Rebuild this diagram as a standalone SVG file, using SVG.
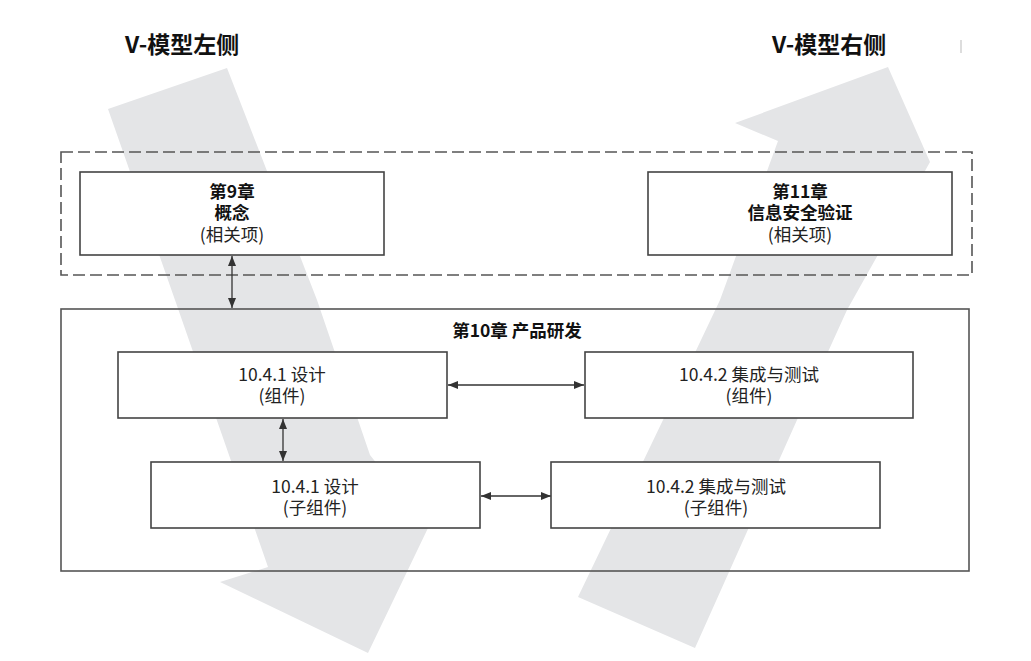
<svg xmlns="http://www.w3.org/2000/svg" width="1031" height="661" viewBox="0 0 1031 661">
<defs>
<marker id="ah" viewBox="0 0 10 8" refX="10" refY="4" markerWidth="10" markerHeight="8" markerUnits="userSpaceOnUse" orient="auto-start-reverse">
<path d="M0,0 L10,4 L0,8 z" fill="#333"/>
</marker>
<style>
.band{fill:#e4e5e7;stroke:none}
.box{fill:#fff;stroke:#444;stroke-width:1.6}
.frame{fill:none;stroke:#555;stroke-width:1.6}
.dash{fill:none;stroke:#555;stroke-width:1.6;stroke-dasharray:12 5}
.con{stroke:#333;stroke-width:1.3;fill:none;marker-start:url(#ah);marker-end:url(#ah)}
text{font-family:"Noto Sans CJK SC","Noto Sans",sans-serif;fill:#111;text-anchor:middle}
.b{font-weight:bold;font-size:17.5px}
.r{font-size:17.5px;fill:#222}
.h{font-weight:bold;font-size:23px;text-anchor:start}
</style>
</defs>
<rect width="1031" height="661" fill="#fff"/>
<g id="bands">
<polygon class="band" points="108,109 227,68 317,300 370,455 428,528 368,653 220,582 268,567 175,300"/>
<polygon class="band" points="888,67 930,162 847,310 797,420 695,648 578,597 663,420 720,300 778,141 735,123"/>
</g>
<text class="h" x="125" y="53">V-模型左侧</text>
<text class="h" x="772" y="53">V-模型右侧</text>
<line x1="961" y1="40" x2="961" y2="53" stroke="#bbb" stroke-width="1"/>
<g id="related-items">
<rect class="dash" x="61" y="152" width="911" height="123"/>
</g>
<g id="ch10">
<rect class="frame" x="61" y="309" width="908" height="262"/>
<text class="b" x="517" y="337">第10章 产品研发</text>
</g>
<g id="connectors">
<line class="con" x1="232" y1="256" x2="232" y2="308"/>
<line class="con" x1="448" y1="385" x2="584" y2="385"/>
<line class="con" x1="283" y1="419" x2="283" y2="461"/>
<line class="con" x1="481" y1="496" x2="551" y2="496"/>
</g>
<g id="ch9">
<rect class="box" x="80" y="172" width="304" height="83"/>
<text class="b" x="232" y="198">第9章</text>
<text class="b" x="232" y="219">概念</text>
<text class="r" x="232" y="241">(相关项)</text>
</g>
<g id="ch11">
<rect class="box" x="648" y="172" width="304" height="83"/>
<text class="b" x="800" y="198">第11章</text>
<text class="b" x="800" y="219">信息安全验证</text>
<text class="r" x="800" y="241">(相关项)</text>
</g>
<g id="design-comp">
<rect class="box" x="118" y="352" width="329" height="66"/>
<text class="r" x="282" y="381">10.4.1 设计</text>
<text class="r" x="282" y="402">(组件)</text>
</g>
<g id="test-comp">
<rect class="box" x="585" y="352" width="328" height="66"/>
<text class="r" x="749" y="381">10.4.2 集成与测试</text>
<text class="r" x="749" y="402">(组件)</text>
</g>
<g id="design-sub">
<rect class="box" x="151" y="462" width="329" height="66"/>
<text class="r" x="315" y="493">10.4.1 设计</text>
<text class="r" x="315" y="514">(子组件)</text>
</g>
<g id="test-sub">
<rect class="box" x="551" y="462" width="329" height="66"/>
<text class="r" x="716" y="493">10.4.2 集成与测试</text>
<text class="r" x="716" y="514">(子组件)</text>
</g>
</svg>
